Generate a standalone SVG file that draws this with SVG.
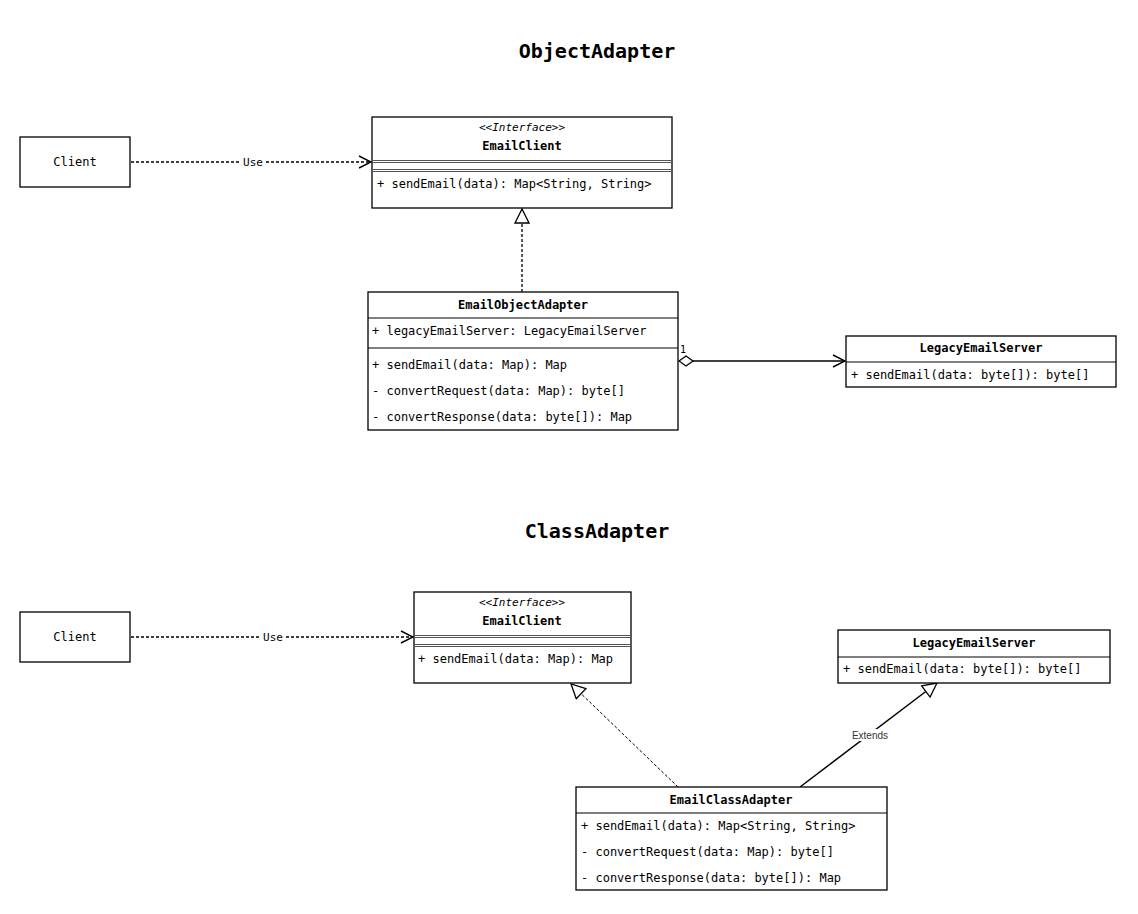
<svg xmlns="http://www.w3.org/2000/svg" width="1138" height="914" viewBox="0 0 1138 914">
  <style>
    .box { fill: #ffffff; stroke: #000000; stroke-width: 1.3; }
    .sep { stroke: #000000; stroke-width: 1; fill: none; }
    .sep2 { stroke: #555555; stroke-width: 1; fill: none; }
    .t { font-family: "DejaVu Sans Mono", "Liberation Mono", monospace; font-size: 12px; fill: #000000; }
    .name { font-family: "DejaVu Sans Mono", "Liberation Mono", monospace; font-size: 12px; font-weight: bold; text-anchor: middle; fill: #000000; }
    .stereo { font-family: "DejaVu Sans Mono", "Liberation Mono", monospace; font-size: 11px; font-style: italic; text-anchor: middle; fill: #000000; }
    .title { font-family: "DejaVu Sans Mono", "Liberation Mono", monospace; font-size: 20px; font-weight: bold; text-anchor: middle; fill: #000000; }
    .lbl { font-family: "DejaVu Sans Mono", "Liberation Mono", monospace; font-size: 11px; text-anchor: middle; fill: #000000; }
    .xlbl { font-family: "Liberation Sans", Arial, sans-serif; font-size: 10px; text-anchor: middle; fill: #333333; }
    .dash { stroke: #000000; stroke-width: 1.3; stroke-dasharray: 3 2; fill: none; }
    .solid { stroke: #000000; stroke-width: 1.5; fill: none; }
  </style>
  <defs>
    <marker id="open" markerUnits="userSpaceOnUse" markerWidth="14" markerHeight="14" refX="13" refY="7" orient="auto">
      <path d="M1,1 L13,7 L1,13" fill="none" stroke="#000" stroke-width="1.4"/>
    </marker>
    <marker id="tri" markerUnits="userSpaceOnUse" markerWidth="16" markerHeight="16" refX="15" refY="8" orient="auto">
      <path d="M1,1 L15,8 L1,15 Z" fill="#fff" stroke="#000" stroke-width="1.3"/>
    </marker>
    <marker id="diamond" markerUnits="userSpaceOnUse" markerWidth="18" markerHeight="12" refX="1" refY="6" orient="auto">
      <path d="M1,6 L8,1 L15,6 L8,11 Z" fill="#fff" stroke="#000" stroke-width="1.3"/>
    </marker>
  </defs>

  <rect width="1138" height="914" fill="#ffffff"/>

  <text class="title" x="597" y="58">ObjectAdapter</text>
  <text class="title" x="597" y="538">ClassAdapter</text>

  <!-- connectors -->
  <g id="connectors">
    <line class="dash" x1="131" y1="162" x2="371" y2="162" marker-end="url(#open)"/>
    <rect x="240" y="155" width="26" height="13" fill="#fff"/>
    <text class="lbl" x="253" y="166">Use</text>

    <line class="dash" x1="522" y1="292" x2="522" y2="209" marker-end="url(#tri)"/>

    <line class="solid" x1="679" y1="361" x2="845" y2="361" marker-start="url(#diamond)" marker-end="url(#open)"/>
    <text class="t" x="680" y="353" style="font-size:10px">1</text>

    <line class="dash" x1="131" y1="637" x2="413" y2="637" marker-end="url(#open)"/>
    <rect x="260" y="630" width="26" height="13" fill="#fff"/>
    <text class="lbl" x="273" y="641">Use</text>

    <line class="dash" x1="678" y1="787" x2="571" y2="684" stroke-dasharray="2 2" style="stroke-width:1"/>
    <line x1="678" y1="787" x2="571" y2="684" stroke="none" marker-end="url(#tri)"/>

    <line class="solid" x1="800" y1="787" x2="937" y2="683" marker-end="url(#tri)"/>
    <rect x="848" y="729" width="44" height="12" fill="#fff"/>
    <text class="xlbl" x="870" y="739">Extends</text>
  </g>

  <!-- ObjectAdapter section -->
  <g id="client1">
    <rect class="box" x="20" y="137" width="110" height="50"/>
    <text class="t" x="75" y="166" text-anchor="middle">Client</text>
  </g>

  <g id="emailclient1">
    <rect class="box" x="372" y="117" width="300" height="91"/>
    <text class="stereo" x="522" y="131">&lt;&lt;Interface&gt;&gt;</text>
    <text class="name" x="522" y="150">EmailClient</text>
    <line class="sep2" x1="372" y1="160.5" x2="672" y2="160.5"/>
    <line class="sep2" x1="372" y1="162.5" x2="672" y2="162.5"/>
    <line class="sep2" x1="372" y1="169.5" x2="672" y2="169.5"/>
    <line class="sep2" x1="372" y1="171.5" x2="672" y2="171.5"/>
    <text class="t" x="377" y="188">+ sendEmail(data): Map&lt;String, String&gt;</text>
  </g>

  <g id="emailobjectadapter">
    <rect class="box" x="368" y="292" width="310" height="138"/>
    <text class="name" x="523" y="309">EmailObjectAdapter</text>
    <line class="sep" x1="368" y1="318" x2="678" y2="318"/>
    <text class="t" x="372" y="335">+ legacyEmailServer: LegacyEmailServer</text>
    <line class="sep" x1="368" y1="348" x2="678" y2="348"/>
    <text class="t" x="372" y="369">+ sendEmail(data: Map): Map</text>
    <text class="t" x="372" y="395">- convertRequest(data: Map): byte[]</text>
    <text class="t" x="372" y="421">- convertResponse(data: byte[]): Map</text>
  </g>

  <g id="legacyemailserver1">
    <rect class="box" x="846" y="336" width="270" height="51"/>
    <text class="name" x="981" y="352">LegacyEmailServer</text>
    <line class="sep" x1="846" y1="362" x2="1116" y2="362"/>
    <text class="t" x="851" y="379">+ sendEmail(data: byte[]): byte[]</text>
  </g>

  <!-- ClassAdapter section -->
  <g id="client2">
    <rect class="box" x="20" y="612" width="110" height="50"/>
    <text class="t" x="75" y="641" text-anchor="middle">Client</text>
  </g>

  <g id="emailclient2">
    <rect class="box" x="414" y="592" width="217" height="91"/>
    <text class="stereo" x="522" y="606">&lt;&lt;Interface&gt;&gt;</text>
    <text class="name" x="522" y="625">EmailClient</text>
    <line class="sep2" x1="414" y1="635.5" x2="631" y2="635.5"/>
    <line class="sep2" x1="414" y1="637.5" x2="631" y2="637.5"/>
    <line class="sep2" x1="414" y1="644.5" x2="631" y2="644.5"/>
    <line class="sep2" x1="414" y1="646.5" x2="631" y2="646.5"/>
    <text class="t" x="418" y="663">+ sendEmail(data: Map): Map</text>
  </g>

  <g id="legacyemailserver2">
    <rect class="box" x="838" y="630" width="272" height="53"/>
    <text class="name" x="974" y="647">LegacyEmailServer</text>
    <line class="sep" x1="838" y1="657" x2="1110" y2="657"/>
    <text class="t" x="843" y="673">+ sendEmail(data: byte[]): byte[]</text>
  </g>

  <g id="emailclassadapter">
    <rect class="box" x="576" y="787" width="311" height="103"/>
    <text class="name" x="731" y="804">EmailClassAdapter</text>
    <line class="sep" x1="576" y1="813" x2="887" y2="813"/>
    <text class="t" x="581" y="830">+ sendEmail(data): Map&lt;String, String&gt;</text>
    <text class="t" x="581" y="856">- convertRequest(data: Map): byte[]</text>
    <text class="t" x="581" y="882">- convertResponse(data: byte[]): Map</text>
  </g>
</svg>
